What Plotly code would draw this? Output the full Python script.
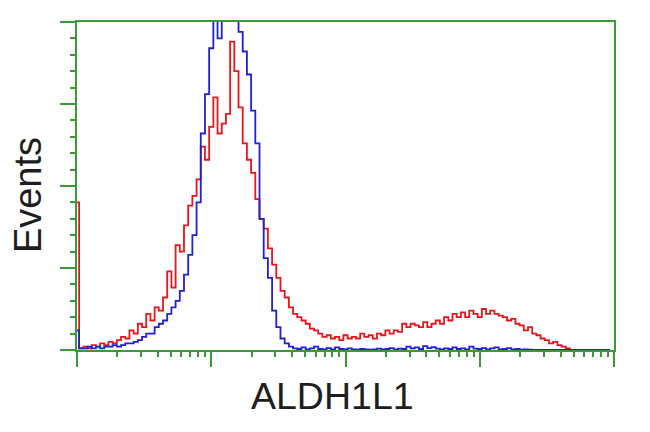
import plotly.graph_objects as go

# 128 log channels over 4 decades (32 channels per decade)
channels = list(range(128))

red_counts = [
    45, 0.5, 1, 0.5, 1.5, 1, 2, 1.5, 2.5, 2,
    3, 4, 3.5, 6, 5, 8, 7, 11, 9, 13,
    12, 16, 24, 19, 32, 30, 38, 44, 47, 52,
    62, 58, 68, 77, 66, 69, 72, 94, 85, 74,
    63, 58, 54, 46, 40, 37, 31, 26, 22, 18,
    16, 13, 11, 10, 9, 8, 6.5, 6, 5, 4,
    4.5, 3.5, 4, 3, 4.5, 3.5, 4, 3.5, 5, 4,
    4.5, 3.5, 5, 4.5, 6, 5, 6, 5.5, 8, 7,
    8, 7.5, 7, 8.5, 7, 8, 9, 8, 10, 9,
    11, 10, 11.5, 10, 12, 11, 10, 12.5, 11, 12,
    11, 10.5, 10, 9, 9.5, 8, 7.5, 6, 7, 5,
    4.5, 3.5, 3, 2, 2.5, 1.5, 1, 0.5, 0, 0,
    0, 0, 0, 0, 0, 0, 0, 0,
]

blue_counts = [
    6, 0.5, 0.5, 1, 0.5, 1, 0.5, 1, 1, 1.5,
    1, 1.5, 2, 2, 2.5, 3, 4, 5, 5, 7,
    8, 9, 11, 13, 15, 18, 23, 29, 35, 45,
    66, 78, 92, 106, 95, 112, 115, 110, 104, 97,
    91, 84, 73, 63, 40, 28, 22, 12, 7, 3.5,
    2, 1, 0.5, 0.3, 0.8, 0.2, 0.5, 1, 0.3, 0.2,
    0.6, 0.2, 0.8, 0.3, 0.2, 0.5, 0.2, 0.1, 0.3, 0.2,
    0.1, 0.2, 0.4, 0.2, 0.3, 0.6, 0.2, 0.4, 0.3, 1,
    0.5, 0.8, 0.3, 1.2, 0.6, 0.9, 0.4, 0.2, 0.5, 0.3,
    0.8, 0.3, 0.5, 0.2, 1, 0.4, 0.3, 0.6, 0.2, 0.5,
    0.8, 0.2, 0.3, 0.6, 0.2, 0.3, 0.1, 0.2, 0.1, 0,
    0, 0, 0, 0, 0, 0, 0, 0, 0, 0,
    0, 0, 0, 0, 0, 0, 0, 0,
]

x_title = "ALDH1L1"
y_title = "Events"

green = "#3a9a3a"
xvals = [10 ** (c / 32) for c in channels]

fig = go.Figure()
fig.add_trace(go.Scatter(x=xvals, y=red_counts, mode="lines", line_shape="hvh",
                         line=dict(color="#e8161c", width=1.8), hoverinfo="skip"))
fig.add_trace(go.Scatter(x=xvals, y=blue_counts, mode="lines", line_shape="hvh",
                         line=dict(color="#1e22d2", width=1.8), hoverinfo="skip"))

fig.update_layout(
    width=650, height=432,
    margin=dict(l=69, r=44, t=14, b=90),
    paper_bgcolor="white", plot_bgcolor="white",
    showlegend=False,
    xaxis=dict(type="log", range=[0, 4], dtick=1, showgrid=False, zeroline=False,
               showline=True, linecolor=green, linewidth=2, mirror=True,
               ticks="outside", ticklen=15, tickwidth=2, tickcolor=green,
               showticklabels=False,
               minor=dict(dtick="D1", ticks="outside", ticklen=5, tickwidth=1.5,
                          tickcolor=green, showgrid=False)),
    yaxis=dict(range=[0, 100], dtick=25, showgrid=False, zeroline=False,
               showline=True, linecolor=green, linewidth=2, mirror=True,
               ticks="outside", ticklen=15, tickwidth=2, tickcolor=green,
               showticklabels=False,
               minor=dict(dtick=5, ticks="outside", ticklen=5, tickwidth=1.5,
                          tickcolor=green, showgrid=False)),
)

fig.add_annotation(text=y_title, xref="paper", yref="paper", x=-0.091, y=0.4726,
                   textangle=-90, showarrow=False, xanchor="center", yanchor="middle",
                   font=dict(family="Liberation Sans, Arial", size=38, color="#1e1e1e"))
fig.add_annotation(text=x_title, xref="paper", yref="paper", x=0.4749, y=-0.14,
                   showarrow=False, xanchor="center", yanchor="middle",
                   font=dict(family="Liberation Sans, Arial", size=37.5, color="#1e1e1e"))

fig.write_html("out.html")
